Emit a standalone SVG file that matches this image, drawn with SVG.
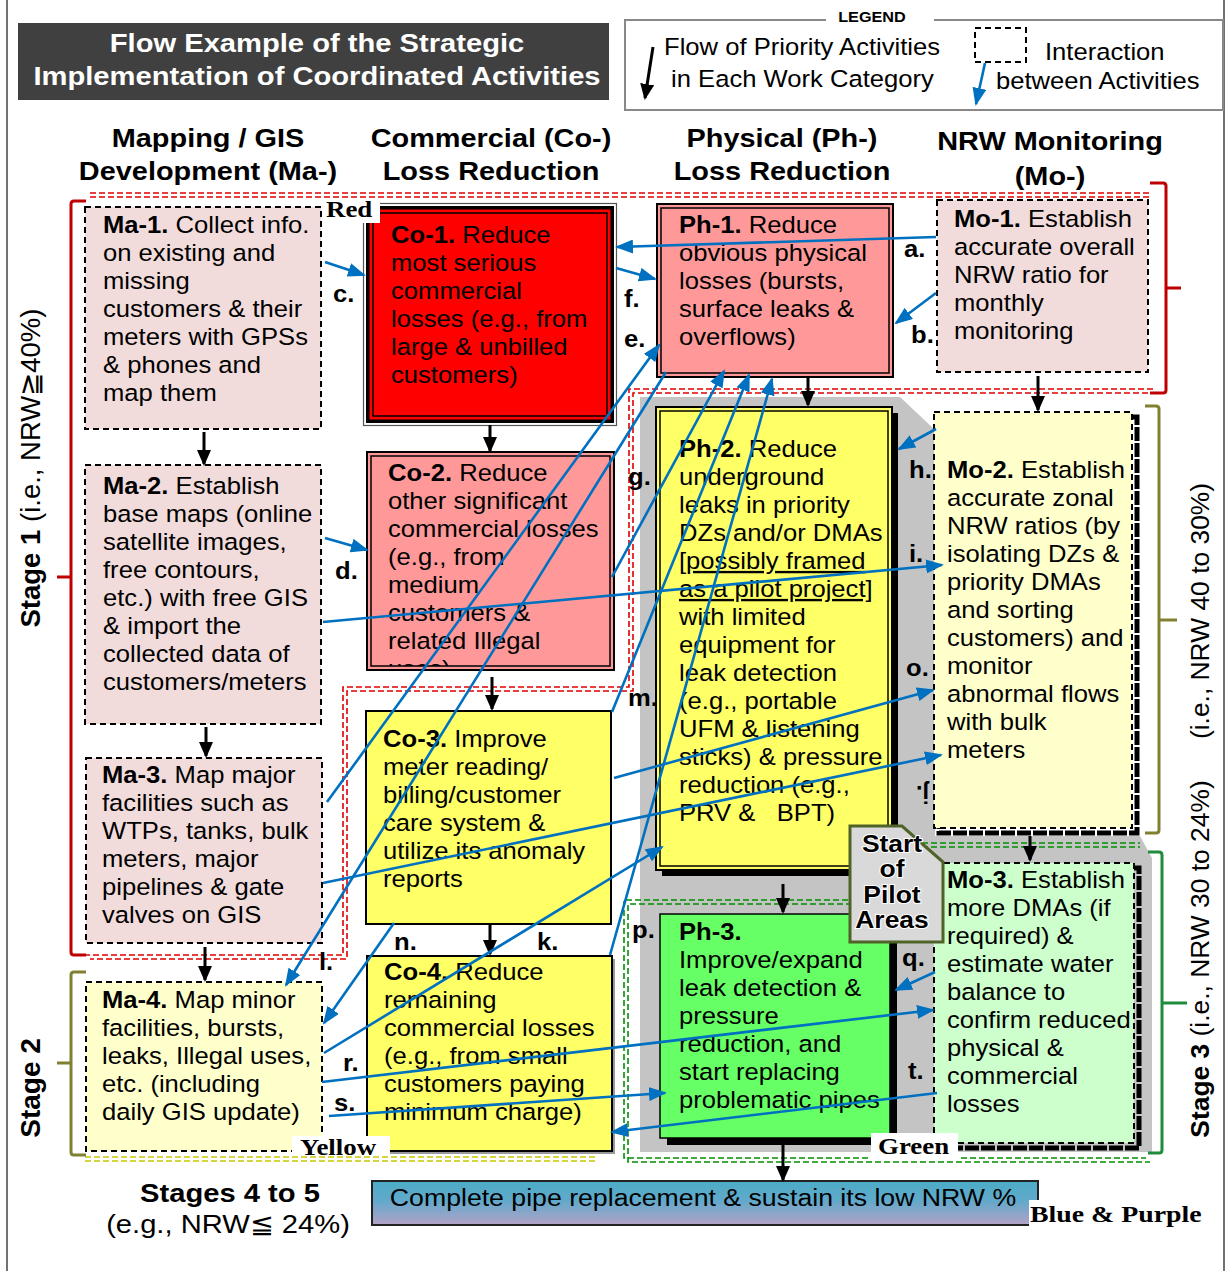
<svg xmlns="http://www.w3.org/2000/svg" width="1232" height="1271" viewBox="0 0 1232 1271">
<defs>
<style>
.t{font-family:"Liberation Sans",Arial,sans-serif;font-size:23.5px;fill:#000}
.b{font-weight:bold}
.hd{font-family:"Liberation Sans",Arial,sans-serif;font-size:25.8px;font-weight:bold;text-anchor:middle}
.lb{font-family:"Liberation Sans",Arial,sans-serif;font-size:23.5px;font-weight:bold}
.sf{font-family:"Liberation Serif","Times New Roman",serif;font-size:24px;font-weight:bold}
.dash{stroke:#000;stroke-width:2;stroke-dasharray:6 4}
.blue{stroke:#0070c0;stroke-width:2.6;fill:none;marker-end:url(#ab)}
.blk{stroke:#000;stroke-width:3;fill:none;marker-end:url(#ak)}
.rd{fill:none;stroke:#e00000;stroke-width:1.6;stroke-dasharray:6 3}
.yd{fill:none;stroke:#c8c800;stroke-width:1.6;stroke-dasharray:6 3}
.gd{fill:none;stroke:#009000;stroke-width:1.6;stroke-dasharray:6 3}
.br{fill:none;stroke-width:3}
.rt{font-family:"Liberation Sans",Arial,sans-serif;text-anchor:middle}
</style>
<marker id="ab" markerUnits="userSpaceOnUse" markerWidth="18" markerHeight="14" viewBox="0 0 18 14" refX="16" refY="7" orient="auto"><path d="M0,0 L18,7 L0,14 z" fill="#0070c0"/></marker>
<marker id="ak" markerUnits="userSpaceOnUse" markerWidth="16" markerHeight="14" viewBox="0 0 16 14" refX="14" refY="7" orient="auto"><path d="M0,0 L16,7 L0,14 z" fill="#000"/></marker>
<linearGradient id="gb" x1="0" y1="0" x2="0" y2="1"><stop offset="0" stop-color="#4bacc6"/><stop offset="0.45" stop-color="#62a9cb"/><stop offset="1" stop-color="#b3a2c7"/></linearGradient>
<clipPath id="c2"><rect x="371" y="456" width="239" height="210"/></clipPath>
</defs>
<rect x="0" y="0" width="1232" height="1271" fill="#fff"/>
<path d="M7,0 V1271 M1224,0 V1271" stroke="#444" stroke-width="1.5" fill="none"/>

<g id="title">
<rect x="18" y="23" width="591" height="77" fill="#404040"/>
<text class="t b" style="fill:#fff;font-size:26.5px" text-anchor="middle" transform="translate(317,0) scale(1.1,1)"><tspan x="0" y="52">Flow Example of the Strategic</tspan><tspan x="0" y="85">Implementation of Coordinated Activities</tspan></text>
</g>

<g id="legend">
<rect x="625" y="20" width="598" height="90" fill="#fff" stroke="#888" stroke-width="2"/>
<rect x="826" y="8" width="108" height="16" fill="#fff"/>
<text class="lb" style="font-size:14.5px" text-anchor="middle" transform="translate(872,0) scale(1.12,1)" x="0" y="22">LEGEND</text>
<path d="M653,47 L645,98" class="blk"/>
<text class="t" transform="translate(664,0) scale(1.09,1)"><tspan x="0" y="55">Flow of Priority Activities</tspan></text>
<text class="t" transform="translate(671,0) scale(1.09,1)"><tspan x="0" y="87">in Each Work Category</tspan></text>
<rect x="975" y="28" width="51" height="34" fill="none" class="dash"/>
<path d="M985,63 L976,104" class="blue"/>
<text class="t" transform="translate(1045,0) scale(1.09,1)"><tspan x="0" y="60">Interaction</tspan></text>
<text class="t" transform="translate(996,0) scale(1.09,1)"><tspan x="0" y="89">between Activities</tspan></text>
</g>

<g id="headers">
<text class="hd" transform="translate(208,0) scale(1.12,1)"><tspan x="0" y="147">Mapping / GIS</tspan><tspan x="0" y="180">Development (Ma-)</tspan></text>
<text class="hd" transform="translate(491,0) scale(1.12,1)"><tspan x="0" y="147">Commercial (Co-)</tspan><tspan x="0" y="180">Loss Reduction</tspan></text>
<text class="hd" transform="translate(782,0) scale(1.12,1)"><tspan x="0" y="147">Physical (Ph-)</tspan><tspan x="0" y="180">Loss Reduction</tspan></text>
<text class="hd" transform="translate(1050,0) scale(1.12,1)"><tspan x="0" y="150">NRW Monitoring</tspan><tspan x="0" y="185">(Mo-)</tspan></text>
</g>

<g id="stages">
<polygon points="640,397 900,397 935,430 935,836 1140,836 1152,858 1152,1152 640,1152" fill="#c4c4c4"/>
<path class="rd" d="M90,193 H1150"/>
<path class="rd" d="M90,197 H1150"/>
<path class="rd" d="M1153,389 H629 V687 H343 V955 H86"/>
<path class="rd" d="M1153,389 H629 V687 H343 V955 H86" transform="translate(4,4)"/>
<path class="yd" d="M85,1157 H598"/>
<path class="yd" d="M85,1161 H598"/>
<path class="gd" d="M848,900 H624 V1158 H1146"/>
<path class="gd" d="M848,900 H624 V1158 H1146" transform="translate(4,4)"/>
<path class="gd" d="M922,843 H1140"/>
<path class="gd" d="M922,847 H1140"/>
<path class="br" stroke="#c00000" d="M86,201 H74 Q71,201 71,204 V952 Q71,955 74,955 H86 M71,577 H57"/>
<path class="br" stroke="#c00000" d="M1150,183 H1163 Q1166,183 1166,186 V390 Q1166,393 1163,393 H1150 M1166,288 H1181"/>
<path class="br" stroke="#808033" d="M86,972 H74 Q71,972 71,975 V1152 Q71,1155 74,1155 H86 M71,1063 H57"/>
<path class="br" stroke="#808033" d="M1145,406 H1156 Q1159,406 1159,409 V830 Q1159,833 1156,833 H1145 M1159,620 H1177"/>
<path class="br" stroke="#1e8c3a" d="M1148,852 H1159 Q1162,852 1162,855 V1150 Q1162,1153 1159,1153 H1148 M1162,1003 H1187"/>
<text class="rt" font-size="27.5" transform="translate(40,468) rotate(-90)"><tspan font-weight="bold">Stage 1</tspan> (i.e., NRW≧40%)</text>
<text class="rt" font-size="28" font-weight="bold" transform="translate(40,1088) rotate(-90)">Stage 2</text>
<text class="rt" font-size="26.4" transform="translate(1209,611) rotate(-90)">(i.e., NRW 40 to 30%)</text>
<text class="rt" font-size="26.4" transform="translate(1209,959) rotate(-90)"><tspan font-weight="bold">Stage 3</tspan> (i.e., NRW 30 to 24%)</text>
<text class="t b" style="font-size:26.5px" text-anchor="middle" transform="translate(230,0) scale(1.1,1)"><tspan x="0" y="1202">Stages 4 to 5</tspan></text>
<text class="t" style="font-size:26.5px" text-anchor="middle" transform="translate(228,0) scale(1.1,1)"><tspan x="0" y="1233">(e.g., NRW≦ 24%)</tspan></text>
</g>

<g id="ma1">
<rect x="85" y="207" width="236" height="222" fill="#f2dcdb" class="dash"/>
<text class="t" transform="translate(103,0) scale(1.09,1)"><tspan x="0" y="233"><tspan class="b">Ma-1.</tspan> Collect info.</tspan><tspan x="0" y="261">on existing and</tspan><tspan x="0" y="289">missing</tspan><tspan x="0" y="317">customers &amp; their</tspan><tspan x="0" y="345">meters with GPSs</tspan><tspan x="0" y="373">&amp; phones and</tspan><tspan x="0" y="401">map them</tspan></text>
</g>
<g id="ma2">
<rect x="85" y="465" width="236" height="259" fill="#f2dcdb" class="dash"/>
<text class="t" transform="translate(103,0) scale(1.09,1)"><tspan x="0" y="494"><tspan class="b">Ma-2.</tspan> Establish</tspan><tspan x="0" y="522">base maps (online</tspan><tspan x="0" y="550">satellite images,</tspan><tspan x="0" y="578">free contours,</tspan><tspan x="0" y="606">etc.) with free GIS</tspan><tspan x="0" y="634">&amp; import the</tspan><tspan x="0" y="662">collected data of</tspan><tspan x="0" y="690">customers/meters</tspan></text>
</g>
<g id="ma3">
<rect x="86" y="758" width="236" height="185" fill="#f2dcdb" class="dash"/>
<text class="t" transform="translate(102,0) scale(1.09,1)"><tspan x="0" y="783"><tspan class="b">Ma-3.</tspan> Map major</tspan><tspan x="0" y="811">facilities such as</tspan><tspan x="0" y="839">WTPs, tanks, bulk</tspan><tspan x="0" y="867">meters, major</tspan><tspan x="0" y="895">pipelines &amp; gate</tspan><tspan x="0" y="923">valves on GIS</tspan></text>
</g>
<g id="ma4">
<rect x="86" y="982" width="236" height="169" fill="#ffffcc" class="dash"/>
<text class="t" transform="translate(102,0) scale(1.09,1)"><tspan x="0" y="1008"><tspan class="b">Ma-4.</tspan> Map minor</tspan><tspan x="0" y="1036">facilities, bursts,</tspan><tspan x="0" y="1064">leaks, Illegal uses,</tspan><tspan x="0" y="1092">etc. (including</tspan><tspan x="0" y="1120">daily GIS update)</tspan></text>
</g>

<g id="co1">
<rect x="363.5" y="203.5" width="253" height="222" fill="#fff" stroke="#555" stroke-width="1.2"/>
<rect x="366" y="206" width="248" height="217" fill="#000"/>
<rect x="369.5" y="209.5" width="241" height="210" fill="#ff0000"/>
<rect x="373" y="213" width="234" height="203" fill="none" stroke="#000" stroke-width="1.5"/>
<text class="t" transform="translate(391,0) scale(1.09,1)"><tspan x="0" y="243"><tspan class="b">Co-1.</tspan> Reduce</tspan><tspan x="0" y="271">most serious</tspan><tspan x="0" y="299">commercial</tspan><tspan x="0" y="327">losses (e.g., from</tspan><tspan x="0" y="355">large &amp; unbilled</tspan><tspan x="0" y="383">customers)</tspan></text>
</g>
<g id="co2">
<rect x="367" y="452" width="247" height="218" fill="#ff9999" stroke="#000" stroke-width="2"/>
<rect x="371" y="456" width="239" height="210" fill="none" stroke="#000" stroke-width="1.5"/>
<g clip-path="url(#c2)">
<text class="t" transform="translate(388,0) scale(1.09,1)"><tspan x="0" y="481"><tspan class="b">Co-2.</tspan> Reduce</tspan><tspan x="0" y="509">other significant</tspan><tspan x="0" y="537">commercial losses</tspan><tspan x="0" y="565">(e.g., from</tspan><tspan x="0" y="593">medium</tspan><tspan x="0" y="621">customers &amp;</tspan><tspan x="0" y="649">related Illegal</tspan><tspan x="0" y="677">uses)</tspan></text>
</g>
</g>
<g id="co3">
<rect x="366" y="711" width="245" height="213" fill="#ffff66" stroke="#000" stroke-width="2"/>
<text class="t" transform="translate(383,0) scale(1.09,1)"><tspan x="0" y="747"><tspan class="b">Co-3.</tspan> Improve</tspan><tspan x="0" y="775">meter reading/</tspan><tspan x="0" y="803">billing/customer</tspan><tspan x="0" y="831">care system &amp;</tspan><tspan x="0" y="859">utilize its anomaly</tspan><tspan x="0" y="887">reports</tspan></text>
</g>
<g id="co4">
<rect x="370" y="959" width="245" height="195" fill="#999"/>
<rect x="367" y="956" width="245" height="195" fill="#ffff66" stroke="#000" stroke-width="2"/>
<text class="t" transform="translate(384,0) scale(1.09,1)"><tspan x="0" y="980"><tspan class="b">Co-4.</tspan> Reduce</tspan><tspan x="0" y="1008">remaining</tspan><tspan x="0" y="1036">commercial losses</tspan><tspan x="0" y="1064">(e.g., from small</tspan><tspan x="0" y="1092">customers paying</tspan><tspan x="0" y="1120">minimum charge)</tspan></text>
</g>

<g id="ph1">
<rect x="657" y="204" width="236" height="173" fill="#ff9999" stroke="#000" stroke-width="2"/>
<rect x="661" y="208" width="228" height="165" fill="none" stroke="#000" stroke-width="1.5"/>
<text class="t" transform="translate(679,0) scale(1.09,1)"><tspan x="0" y="233"><tspan class="b">Ph-1.</tspan> Reduce</tspan><tspan x="0" y="261">obvious physical</tspan><tspan x="0" y="289">losses (bursts,</tspan><tspan x="0" y="317">surface leaks &amp;</tspan><tspan x="0" y="345">overflows)</tspan></text>
</g>
<g id="ph2">
<rect x="662" y="413" width="236" height="463" fill="#000"/>
<rect x="656" y="407" width="236" height="463" fill="#ffff66" stroke="#000" stroke-width="2"/>
<rect x="660" y="411" width="228" height="455" fill="none" stroke="#000" stroke-width="1.5"/>
<text class="t" transform="translate(679,0) scale(1.09,1)"><tspan x="0" y="457"><tspan class="b">Ph-2.</tspan> Reduce</tspan><tspan x="0" y="485">underground</tspan><tspan x="0" y="513">leaks in priority</tspan><tspan x="0" y="541">DZs and/or DMAs</tspan><tspan x="0" y="569" text-decoration="underline">[possibly framed</tspan><tspan x="0" y="597" text-decoration="underline">as a pilot project]</tspan><tspan x="0" y="625">with limited</tspan><tspan x="0" y="653">equipment for</tspan><tspan x="0" y="681">leak detection</tspan><tspan x="0" y="709">(e.g., portable</tspan><tspan x="0" y="737">UFM &amp; listening</tspan><tspan x="0" y="765">sticks) &amp; pressure</tspan><tspan x="0" y="793">reduction (e.g.,</tspan><tspan x="0" y="821">PRV &amp;&#160;&#160; BPT)</tspan></text>
</g>
<g id="ph3">
<rect x="667" y="921" width="230" height="224" fill="#000"/>
<rect x="660" y="914" width="230" height="224" fill="#66ff66" stroke="#000" stroke-width="1.5"/>
<text class="t" transform="translate(679,0) scale(1.09,1)"><tspan x="0" y="940" class="b">Ph-3.</tspan><tspan x="0" y="968">Improve/expand</tspan><tspan x="0" y="996">leak detection &amp;</tspan><tspan x="0" y="1024">pressure</tspan><tspan x="0" y="1052">reduction, and</tspan><tspan x="0" y="1080">start replacing</tspan><tspan x="0" y="1108">problematic pipes</tspan></text>
</g>

<g id="mo1">
<rect x="937" y="200" width="211" height="172" fill="#f2dcdb" class="dash"/>
<text class="t" transform="translate(954,0) scale(1.09,1)"><tspan x="0" y="227"><tspan class="b">Mo-1.</tspan> Establish</tspan><tspan x="0" y="255">accurate overall</tspan><tspan x="0" y="283">NRW ratio for</tspan><tspan x="0" y="311">monthly</tspan><tspan x="0" y="339">monitoring</tspan></text>
</g>
<g id="mo2">
<rect x="939" y="417" width="198" height="416" fill="none" stroke="#000" stroke-width="5" stroke-dasharray="14 2"/>
<rect x="934" y="412" width="198" height="416" fill="#ffffcc" class="dash"/>
<text class="t" transform="translate(947,0) scale(1.09,1)"><tspan x="0" y="478"><tspan class="b">Mo-2.</tspan> Establish</tspan><tspan x="0" y="506">accurate zonal</tspan><tspan x="0" y="534">NRW ratios (by</tspan><tspan x="0" y="562">isolating DZs &amp;</tspan><tspan x="0" y="590">priority DMAs</tspan><tspan x="0" y="618">and sorting</tspan><tspan x="0" y="646">customers) and</tspan><tspan x="0" y="674">monitor</tspan><tspan x="0" y="702">abnormal flows</tspan><tspan x="0" y="730">with bulk</tspan><tspan x="0" y="758">meters</tspan></text>
</g>
<g id="mo3">
<rect x="939" y="868" width="200" height="280" fill="none" stroke="#000" stroke-width="5" stroke-dasharray="14 2"/>
<rect x="934" y="863" width="200" height="280" fill="#ccffcc" class="dash"/>
<text class="t" transform="translate(947,0) scale(1.09,1)"><tspan x="0" y="888"><tspan class="b">Mo-3.</tspan> Establish</tspan><tspan x="0" y="916">more DMAs (if</tspan><tspan x="0" y="944">required) &amp;</tspan><tspan x="0" y="972">estimate water</tspan><tspan x="0" y="1000">balance to</tspan><tspan x="0" y="1028">confirm reduced</tspan><tspan x="0" y="1056">physical &amp;</tspan><tspan x="0" y="1084">commercial</tspan><tspan x="0" y="1112">losses</tspan></text>
</g>
<g id="pilot">
<polygon points="850,826 902,826 943,862 943,942 850,942" fill="#d9d9d9" stroke="#4f6228" stroke-width="3"/>
<text class="t b" style="font-size:23px;paint-order:stroke;stroke:#fff;stroke-width:2" text-anchor="middle" transform="translate(892,0) scale(1.15,1)"><tspan x="0" y="852">Start</tspan><tspan x="0" y="877">of</tspan><tspan x="0" y="903">Pilot</tspan><tspan x="0" y="928">Areas</tspan></text>
</g>
<g id="final">
<rect x="372" y="1181" width="666" height="44" fill="url(#gb)" stroke="#222" stroke-width="2"/>
<text class="t" style="font-size:23px" text-anchor="middle" transform="translate(703,0) scale(1.16,1)"><tspan x="0" y="1206">Complete pipe replacement &amp; sustain its low NRW %</tspan></text>
</g>

<g id="connectors">
<path class="blk" d="M204,432 V464"/>
<path class="blk" d="M206,727 V756"/>
<path class="blk" d="M205,947 V980"/>
<path class="blk" d="M490,425 V451"/>
<path class="blk" d="M492,677 V709"/>
<path class="blk" d="M490,924 V954"/>
<path class="blk" d="M808,377 V405"/>
<path class="blk" d="M1038,376 V410"/>
<path class="blk" d="M783,884 V912"/>
<path class="blk" d="M1030,836 V860"/>
<path class="blk" d="M783,1145 V1180"/>
<path class="blue" d="M936,237 L617,247"/>
<path class="blue" d="M936,293 L896,323"/>
<path class="blue" d="M325,262 L364,275"/>
<path class="blue" d="M616,268 L655,279"/>
<path class="blue" d="M327,802 L659,345"/>
<path class="blue" d="M325,538 L367,550"/>
<path class="blue" d="M612,577 L724,371"/>
<path class="blue" d="M612,712 L749,375"/>
<path class="blue" d="M610,955 L772,379"/>
<path class="blue" d="M666,372 L286,985"/>
<path class="blue" d="M936,429 L899,449"/>
<path class="blue" d="M323,622 L942,565"/>
<path class="blue" d="M614,778 L933,690"/>
<path class="blue" d="M323,883 L941,755"/>
<path class="blue" d="M394,923 L324,1023"/>
<path class="blue" d="M324,1053 L662,847"/>
<path class="blue" d="M322,1082 L933,1010"/>
<path class="blue" d="M329,1116 L665,1093"/>
<path class="blue" d="M937,1093 L612,1132"/>
<path class="blue" d="M935,972 L896,990"/>
</g>

<g id="labels">
<rect x="323" y="198" width="57" height="25" fill="#fff"/>
<text class="sf" transform="translate(326,0) scale(1.12,1)" x="0" y="217">Red</text>
<rect x="292" y="1136" width="98" height="20" fill="#fff"/>
<text class="sf" transform="translate(300,0) scale(1.12,1)" x="0" y="1155">Yellow</text>
<rect x="871" y="1133" width="87" height="26" fill="#fff"/>
<text class="sf" transform="translate(878,0) scale(1.12,1)" x="0" y="1154">Green</text>
<rect x="1029" y="1200" width="176" height="30" fill="#fff"/>
<text class="sf" transform="translate(1030,0) scale(1.16,1)" x="0" y="1222">Blue &amp; Purple</text>
<text class="lb" transform="translate(904,0) scale(1.09,1)" x="0" y="257">a.</text>
<text class="lb" transform="translate(911,0) scale(1.09,1)" x="0" y="343">b.</text>
<text class="lb" transform="translate(333,0) scale(1.09,1)" x="0" y="302">c.</text>
<text class="lb" transform="translate(335,0) scale(1.09,1)" x="0" y="579">d.</text>
<text class="lb" transform="translate(624,0) scale(1.09,1)" x="0" y="347">e.</text>
<text class="lb" transform="translate(624,0) scale(1.09,1)" x="0" y="307">f.</text>
<text class="lb" transform="translate(628,0) scale(1.09,1)" x="0" y="485">g.</text>
<text class="lb" transform="translate(909,0) scale(1.09,1)" x="0" y="478">h.</text>
<text class="lb" transform="translate(909,0) scale(1.09,1)" x="0" y="562">i.</text>
<text class="lb" transform="translate(906,0) scale(1.09,1)" x="0" y="676">o.</text>
<text class="lb" transform="translate(628,0) scale(1.09,1)" x="0" y="706">m.</text>
<text class="lb" transform="translate(394,0) scale(1.09,1)" x="0" y="950">n.</text>
<text class="lb" transform="translate(537,0) scale(1.09,1)" x="0" y="950">k.</text>
<text class="lb" transform="translate(319,0) scale(1.09,1)" x="0" y="970">l.</text>
<text class="lb" transform="translate(632,0) scale(1.09,1)" x="0" y="938">p.</text>
<text class="lb" transform="translate(902,0) scale(1.09,1)" x="0" y="966">q.</text>
<text class="lb" transform="translate(343,0) scale(1.09,1)" x="0" y="1071">r.</text>
<text class="lb" transform="translate(334,0) scale(1.09,1)" x="0" y="1111">s.</text>
<text class="lb" transform="translate(908,0) scale(1.09,1)" x="0" y="1079">t.</text>
<text class="lb" transform="translate(929,786) rotate(180)" x="0" y="0">j.</text>
</g>
</svg>
